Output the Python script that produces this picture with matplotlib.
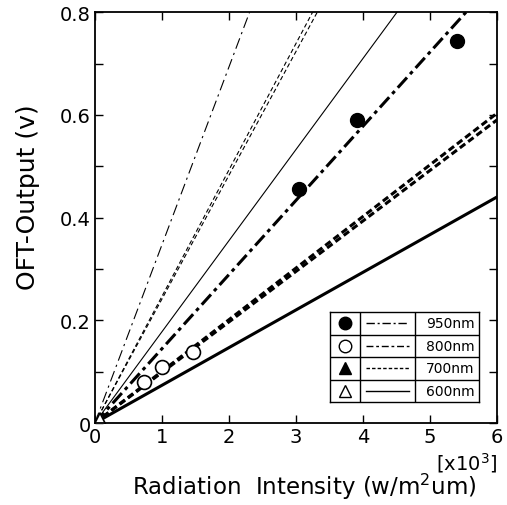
import matplotlib
matplotlib.use("Agg")
import matplotlib.pyplot as plt

plt.rcParams['font.family'] = ['DejaVu Sans']

# Thin lines (through origin): end points
thin_x = [[0, 2.31], [0, 3.25], [0, 3.32], [0, 4.51]]
thin_y = [[0, 0.8], [0, 0.8], [0, 0.8], [0, 0.8]]
thin_styles = ['dashdot', 'dashed', 'dashed', 'solid']

# Thick fitted lines
thick_x = [[0, 5.54], [0, 6.0], [0, 6.0], [0, 6.0]]
thick_y = [[0, 0.8], [0, 0.603], [0, 0.59], [0, 0.44]]
thick_styles = ['dashdot', 'dashed', 'dashed', 'solid']

# Measured points
filled_circ_x = [3.04, 3.92, 5.40]
filled_circ_y = [0.455, 0.59, 0.743]
open_circ_x = [0.74, 1.01, 1.46]
open_circ_y = [0.08, 0.109, 0.138]
filled_tri_x = [0.06]
filled_tri_y = [0.006]
open_tri_x = [0.08]
open_tri_y = [0.008]

x_ticks = [0, 1, 2, 3, 4, 5, 6]
x_tick_labels = ['0', '1', '2', '3', '4', '5', '6']
y_ticks = [0, 0.2, 0.4, 0.6, 0.8]
y_tick_labels = ['0', '0.2', '0.4', '0.6', '0.8']
y_minor_ticks = [0.1, 0.3, 0.5, 0.7]

legend_labels = ['950nm', '800nm', '700nm', '600nm']
legend_markers = ['o', 'o', '^', '^']
legend_fill = ['black', 'white', 'black', 'white']

fig = plt.figure(figsize=(5.07, 5.06), dpi=100)
ax = fig.add_axes([0.187, 0.162, 0.793, 0.812])

thin_dash = {'dashdot': (0, (10, 4, 2, 4)), 'dashed': (0, (4, 2.5)), 'solid': '-'}
for xs, ys, st in zip(thin_x, thin_y, thin_styles):
    ax.plot(xs, ys, color='black', lw=0.8, linestyle=thin_dash[st])

thick_dash = {'dashdot': (0, (4.5, 1.5, 1.2, 1.5)), 'dashed': (0, (2.2, 1.2)), 'solid': '-'}
for xs, ys, st in zip(thick_x, thick_y, thick_styles):
    ax.plot(xs, ys, color='black', lw=2.2, linestyle=thick_dash[st])

ax.plot(filled_circ_x, filled_circ_y, 'o', ms=10, mfc='black', mec='black')
ax.plot(open_circ_x, open_circ_y, 'o', ms=10, mfc='white', mec='black', mew=1.2)
ax.plot(filled_tri_x, filled_tri_y, '^', ms=8, mfc='black', mec='black')
ax.plot(open_tri_x, open_tri_y, '^', ms=9, mfc='white', mec='black', mew=1.2)

ax.set_xlim(0, 6)
ax.set_ylim(0, 0.8)
ax.set_xticks(x_ticks)
ax.set_xticklabels(x_tick_labels)
ax.set_yticks(y_ticks)
ax.set_yticklabels(y_tick_labels)
ax.set_yticks(y_minor_ticks, minor=True)
ax.tick_params(which='both', direction='in', top=True, right=True, labelsize=14,
               length=6, width=1.0, pad=3)
ax.tick_params(which='minor', length=6)
for s in ax.spines.values():
    s.set_linewidth(1.3)

ax.set_ylabel('OFT-Output (v)', fontsize=18, va='center')
ax.yaxis.set_label_coords(-0.167, 0.553)
ax.set_xlabel('Radiation  Intensity (w/m$^2$um)', fontsize=16.5, va='baseline')
ax.xaxis.set_label_coords(0.52, -0.1727)
ax.text(1.0, -0.112, '[x10$^3$]', transform=ax.transAxes, ha='right', va='baseline',
        fontsize=14)

# Legend table
lax = ax.inset_axes([0.585, 0.051, 0.371, 0.219])
lax.set_xlim(0, 149)
lax.set_ylim(0, 4)
lax.set_xticks([])
lax.set_yticks([])
for s in lax.spines.values():
    s.set_linewidth(1.0)
for yy in [1, 2, 3]:
    lax.axhline(yy, color='black', lw=1.0)
for xx in [30, 85]:
    lax.axvline(xx, color='black', lw=1.0)
leg_styles = [(0, (6, 2, 1.5, 2)), (0, (5, 2, 2, 2)), (0, (2.5, 1.5)), '-']
for i in range(4):
    yc = 3.5 - i
    lax.plot([15], [yc], legend_markers[i], ms=9 if legend_markers[i] == 'o' else 8,
             mfc=legend_fill[i], mec='black', mew=1.0)
    lax.plot([36, 79], [yc, yc], color='black', lw=1.0, linestyle=leg_styles[i])
    lax.text(120, yc, legend_labels[i], ha='center', va='center', fontsize=10)

fig.savefig('out.png', dpi=100)
